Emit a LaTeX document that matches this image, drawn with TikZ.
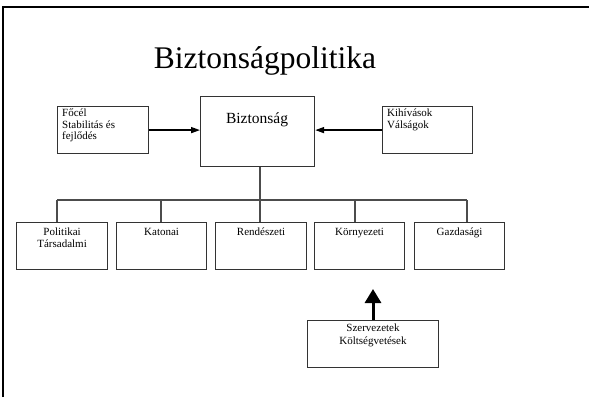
\documentclass[tikz,border=0pt]{standalone}
\usepackage{fontspec}
\setmainfont{Liberation Serif}
\usetikzlibrary{arrows.meta}
\tikzset{
  box/.style={draw=black!80, line width=1.2pt, minimum width=#1, inner sep=0pt, anchor=north west},
  boxtext/.style={inner sep=0pt, font=\fontsize{11}{11.5}\selectfont, text=black},
  conn/.style={draw=black!70, line width=1.2pt},
  thinarrow/.style={draw=black, line width=1.5pt, -{Triangle[length=9pt,width=6pt]}},
  thickarrow/.style={draw=black, line width=3pt, -{Triangle[length=14pt,width=16pt]}}
}
\begin{document}
\begin{tikzpicture}[x=1pt,y=-1pt]
\useasboundingbox (0,0) rectangle (589,397);
% frame
\draw[line width=2pt] (3,397) -- (3,7) -- (589,7);
% title
\node[inner sep=0pt, anchor=base, font=\fontsize{31.5}{34}\selectfont] (title) at (265,68) {Biztonságpolitika};
% top row
\node[box=91pt, minimum height=47pt] (goal) at (57,106) {};
\node[box=114pt, minimum height=70pt] (bizt) at (200,96) {};
\node[box=90pt, minimum height=47pt] (chal) at (382,106) {};
\node[boxtext, anchor=north west, align=left] (goalt) at (62,109) {Főcél\\Stabilitás és\\fejlődés};
\node[inner sep=0pt, anchor=base, font=\fontsize{15.5}{17}\selectfont] (biztt) at (257,123) {Biztonság};
\node[boxtext, anchor=north west, align=left] (chalt) at (387,109) {Kihívások\\Válságok};
\draw[thinarrow] (goal.east) -- (bizt.west |- goal.east);
\draw[thinarrow] (chal.west) -- (bizt.east |- chal.west);
% second row
\node[box=91pt, minimum height=47pt] (b1) at (16,222) {};
\node[box=90pt, minimum height=47pt] (b2) at (116,222) {};
\node[box=91pt, minimum height=47pt] (b3) at (215,222) {};
\node[box=90pt, minimum height=47pt] (b4) at (314,222) {};
\node[box=90pt, minimum height=47pt] (b5) at (414,222) {};
\node[boxtext, anchor=north, align=center] (b1t) at ([yshift=-6pt]b1.north) {Politikai\\Társadalmi};
\node[boxtext, anchor=north, align=center] (b2t) at ([yshift=-6pt]b2.north) {Katonai};
\node[boxtext, anchor=north, align=center] (b3t) at ([yshift=-6pt]b3.north) {Rendészeti};
\node[boxtext, anchor=north, align=center] (b4t) at ([yshift=-6pt]b4.north) {Környezeti};
\node[boxtext, anchor=north, align=center] (b5t) at ([yshift=-6pt]b5.north) {Gazdasági};
% tree
\coordinate (j) at (260,200);
\coordinate (t1) at (57,200);
\coordinate (t2) at (161,200);
\coordinate (t4) at (355,200);
\coordinate (t5) at (467,200);
\draw[conn] (j |- bizt.south) -- (j);
\draw[conn] (t1) -- (t5);
\draw[conn] (t1) -- (t1 |- b1.north);
\draw[conn] (t2) -- (t2 |- b2.north);
\draw[conn] (j) -- (j |- b3.north);
\draw[conn] (t4) -- (t4 |- b4.north);
\draw[conn] (t5) -- (t5 |- b5.north);
% bottom
\node[box=131pt, minimum height=47pt] (org) at (307,320) {};
\node[boxtext, anchor=north, align=center, font=\fontsize{11}{12.5}\selectfont] (orgt) at (373,324) {Szervezetek\\Költségvetések};
\coordinate (ka) at (373,289);
\draw[thickarrow] (ka |- org.north) -- (ka);
\end{tikzpicture}
\end{document}
